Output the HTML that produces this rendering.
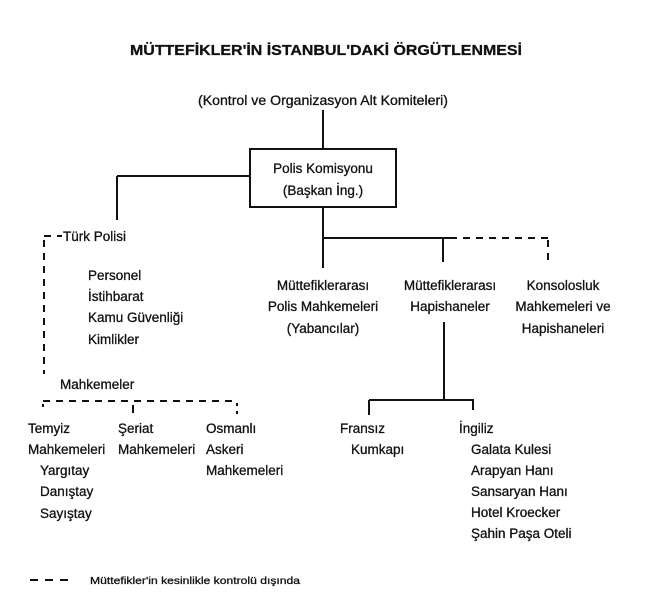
<!DOCTYPE html>
<html><head><meta charset="utf-8"><style>
html,body{margin:0;padding:0;background:#fff;}
svg{display:block;}
text{font-family:"Liberation Sans",sans-serif;font-size:13.5px;fill:#111;stroke:#111;stroke-width:0.3;}
</style></head><body>
<svg width="658" height="600" viewBox="0 0 658 600" xmlns="http://www.w3.org/2000/svg">
<g stroke="#111" stroke-width="2" fill="none">
<line x1="323" y1="110" x2="323" y2="148"/>
<rect x="250" y="149" width="146" height="58"/>
<line x1="250" y1="176" x2="117" y2="176"/>
<line x1="117" y1="176" x2="117" y2="220"/>
<line x1="323" y1="207" x2="323" y2="268"/>
<line x1="323" y1="238" x2="450" y2="238"/>
<line x1="443" y1="238" x2="443" y2="262"/>
<line x1="444" y1="322" x2="444" y2="400"/>
<line x1="369" y1="400" x2="474" y2="400"/>
<line x1="369" y1="400" x2="369" y2="415"/>
<line x1="473" y1="400" x2="473" y2="410"/>
<line x1="133" y1="405" x2="133" y2="413"/>
</g>
<g stroke="#111" stroke-width="2" fill="none" stroke-dasharray="7,6">
<line x1="450" y1="238" x2="548" y2="238"/>
<line x1="548" y1="240" x2="548" y2="266"/>
<line x1="44" y1="236" x2="62" y2="236"/>
<line x1="44" y1="240" x2="44" y2="374"/>
<line x1="43" y1="401" x2="237" y2="401"/>
<line x1="237" y1="403" x2="237" y2="416" stroke-dasharray="3,5"/>
<line x1="43" y1="404" x2="43" y2="411" stroke-dasharray="3,5"/>
<line x1="30" y1="580" x2="72" y2="580" stroke-dasharray="8,7"/>
</g>
<text x="130" y="55" textLength="392" lengthAdjust="spacingAndGlyphs" style="font-weight:bold;font-size:15px">MÜTTEFİKLER'İN İSTANBUL'DAKİ ÖRGÜTLENMESİ</text>
<text x="198" y="105" textLength="250" lengthAdjust="spacingAndGlyphs">(Kontrol ve Organizasyon Alt Komiteleri)</text>
<text x="323" y="173" text-anchor="middle">Polis Komisyonu</text>
<text x="323" y="195" text-anchor="middle">(Başkan İng.)</text>
<text x="63" y="241">Türk Polisi</text>
<text x="88" y="280">Personel</text>
<text x="88" y="301">İstihbarat</text>
<text x="88" y="322">Kamu Güvenliği</text>
<text x="88" y="344">Kimlikler</text>
<text x="60" y="389">Mahkemeler</text>
<text x="28" y="433">Temyiz</text>
<text x="28" y="454">Mahkemeleri</text>
<text x="40" y="475">Yargıtay</text>
<text x="40" y="496">Danıştay</text>
<text x="40" y="518">Sayıştay</text>
<text x="118" y="433">Şeriat</text>
<text x="118" y="454">Mahkemeleri</text>
<text x="206" y="433">Osmanlı</text>
<text x="206" y="454">Askeri</text>
<text x="206" y="475">Mahkemeleri</text>
<text x="323" y="290" text-anchor="middle">Müttefiklerarası</text>
<text x="323" y="311" text-anchor="middle">Polis Mahkemeleri</text>
<text x="323" y="333" text-anchor="middle">(Yabancılar)</text>
<text x="450" y="290" text-anchor="middle">Müttefiklerarası</text>
<text x="450" y="311" text-anchor="middle">Hapishaneler</text>
<text x="563" y="290" text-anchor="middle">Konsolosluk</text>
<text x="563" y="311" text-anchor="middle">Mahkemeleri ve</text>
<text x="563" y="333" text-anchor="middle">Hapishaneleri</text>
<text x="340" y="433">Fransız</text>
<text x="351" y="454">Kumkapı</text>
<text x="459" y="433">İngiliz</text>
<text x="471" y="454">Galata Kulesi</text>
<text x="471" y="475">Arapyan Hanı</text>
<text x="471" y="496">Sansaryan Hanı</text>
<text x="471" y="517">Hotel Kroecker</text>
<text x="471" y="538">Şahin Paşa Oteli</text>
<text x="90" y="584" textLength="210" lengthAdjust="spacingAndGlyphs" style="font-size:10.5px">Müttefikler'in kesinlikle kontrolü dışında</text>
</svg>
</body></html>
